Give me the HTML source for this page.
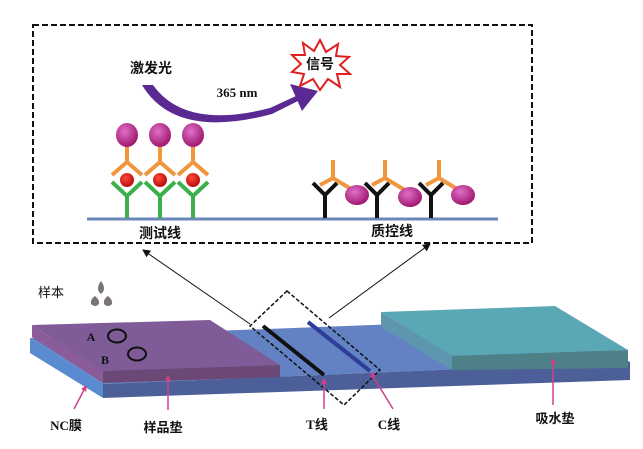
<!DOCTYPE html>
<html><head><meta charset="utf-8"><style>
html,body{margin:0;padding:0;background:#fff;}
svg{display:block;}
text{font-family:"Liberation Serif","Noto Sans CJK SC",serif;font-weight:bold;fill:#111;}
</style></head><body>
<svg width="643" height="449" viewBox="0 0 643 449" xmlns="http://www.w3.org/2000/svg">
<defs>
<radialGradient id="mg" cx="40%" cy="35%" r="65%"><stop offset="0" stop-color="#e070c8"/><stop offset="1" stop-color="#a0186e"/></radialGradient>
<radialGradient id="rg" cx="40%" cy="35%" r="65%"><stop offset="0" stop-color="#ff4a3a"/><stop offset="1" stop-color="#b80c0c"/></radialGradient>
<marker id="ah" markerWidth="8" markerHeight="8" refX="7" refY="4" orient="auto" markerUnits="userSpaceOnUse"><path d="M0,0 L8,4 L0,8 z" fill="#111"/></marker>
<marker id="ph" markerWidth="6" markerHeight="6" refX="5" refY="3" orient="auto" markerUnits="userSpaceOnUse"><path d="M0,0 L6,3 L0,6 z" fill="#d0408a"/></marker>
</defs>

<rect x="33" y="25" width="499" height="218" fill="none" stroke="#111" stroke-width="2" stroke-dasharray="6,3"/>
<text x="151" y="73" font-size="14" text-anchor="middle">激发光</text>
<path d="M142,85 L153,85 Q185,130 270,108 L296,96 L300,100 L272,114 Q175,140 142,85 z" fill="#5a2a92"/>
<path d="M290,84 L318,91 L302,111 z" fill="#5a2a92"/>
<text x="237" y="97" font-size="13" text-anchor="middle">365 nm</text>
<polygon points="320,40 326,52 338,44 336,56 349,57 340,65 350,74 337,74 340,87 328,79 320,90 313,79 300,86 304,74 292,72 301,64 292,55 305,55 303,43 314,51" fill="#fff" stroke="#e02020" stroke-width="2"/>
<text x="320" y="69" font-size="14" text-anchor="middle">信号</text>

<line x1="87" y1="219" x2="498" y2="219" stroke="#6b86b8" stroke-width="3"/>

<g stroke-width="4" fill="none">
 <g id="ta">
 <path d="M112,182 L127,196 L142,182 M127,196 L127,218" stroke="#3cb04a"/>
 <path d="M112,175 L127,162 L142,175 M127,162 L127,145" stroke="#f0963c"/>
 </g>
 <use href="#ta" x="33"/><use href="#ta" x="66"/>
</g>
<g fill="url(#rg)"><circle cx="127" cy="180" r="7"/><circle cx="160" cy="180" r="7"/><circle cx="193" cy="180" r="7"/></g>
<g fill="url(#mg)"><ellipse cx="127" cy="135" rx="11" ry="12"/><ellipse cx="160" cy="135" rx="11" ry="12"/><ellipse cx="193" cy="135" rx="11" ry="12"/></g>

<g stroke-width="4" fill="none">
 <g id="ca">
 <path d="M313,183 L325,195 L337,183 M325,195 L325,218" stroke="#111"/>
 <path d="M333,160 L333,178 M320,185 L333,178 L356,192" stroke="#f0963c"/>
 </g>
 <use href="#ca" x="52"/><use href="#ca" x="106"/>
</g>
<g fill="url(#mg)"><ellipse cx="357" cy="195" rx="12" ry="10"/><ellipse cx="410" cy="197" rx="12" ry="10"/><ellipse cx="463" cy="195" rx="12" ry="10"/></g>
<text x="160" y="238" font-size="14" text-anchor="middle">测试线</text>
<text x="392" y="236" font-size="14" text-anchor="middle">质控线</text>

<line x1="250" y1="324" x2="143" y2="250" stroke="#111" stroke-width="1" marker-end="url(#ah)"/>
<line x1="329" y1="318" x2="430" y2="244" stroke="#111" stroke-width="1" marker-end="url(#ah)"/>

<text x="51" y="297" font-size="13" text-anchor="middle" style="font-weight:normal">样本</text>
<g fill="#7a7472"><path d="M101,281 Q107,289 101,294 Q95,289 101,281z"/><path d="M95,296 Q100,300 99,304 Q95,308 91,304 Q90,299 95,296z"/><path d="M108,296 Q113,300 112,304 Q108,308 104,304 Q103,299 108,296z"/></g>

<polygon points="30,338 555,318 630,362 103,384" fill="#6282c4"/>
<polygon points="103,384 630,362 630,380 103,398" fill="#4d5f98"/>
<polygon points="30,338 103,384 103,398 30,353" fill="#5a8ad0"/>
<polygon points="32,325 210,320 280,365 103,371" fill="#7f5c98"/>
<polygon points="103,371 280,365 280,377 103,383" fill="#6c4876"/>
<polygon points="32,325 103,371 103,383 32,337" fill="#8a5c9a"/>
<text x="91" y="341" font-size="12" text-anchor="middle">A</text>
<ellipse cx="117" cy="336" rx="9" ry="6.5" fill="none" stroke="#111" stroke-width="2"/>
<text x="105" y="364" font-size="12" text-anchor="middle">B</text>
<ellipse cx="137" cy="354" rx="9" ry="6.5" fill="none" stroke="#111" stroke-width="2"/>
<polygon points="381,312 555,306 628,350 452,356" fill="#5aa8b5"/>
<polygon points="381,312 452,356 452,370 381,327" fill="#5e96b0"/>
<polygon points="452,356 628,350 628,368 452,370" fill="#4e8088"/>

<line x1="263" y1="326" x2="324" y2="375" stroke="#111" stroke-width="4"/>
<line x1="308" y1="322" x2="370" y2="371" stroke="#2e3e98" stroke-width="4"/>
<polygon points="287,291 380,370 344,405 250,326" fill="none" stroke="#111" stroke-width="1.5" stroke-dasharray="4,2"/>

<g stroke="#d0408a" stroke-width="1.5" marker-end="url(#ph)">
<line x1="74" y1="409" x2="86" y2="386"/>
<line x1="168" y1="410" x2="168" y2="376"/>
<line x1="324" y1="409" x2="324" y2="379"/>
<line x1="393" y1="409" x2="371" y2="373"/>
<line x1="553" y1="405" x2="553" y2="359"/>
</g>
<text x="66" y="430" font-size="13" text-anchor="middle">NC膜</text>
<text x="163" y="432" font-size="13" text-anchor="middle">样品垫</text>
<text x="317" y="429" font-size="13" text-anchor="middle">T线</text>
<text x="389" y="429" font-size="13" text-anchor="middle">C线</text>
<text x="555" y="423" font-size="13" text-anchor="middle">吸水垫</text>
</svg>
</body></html>
